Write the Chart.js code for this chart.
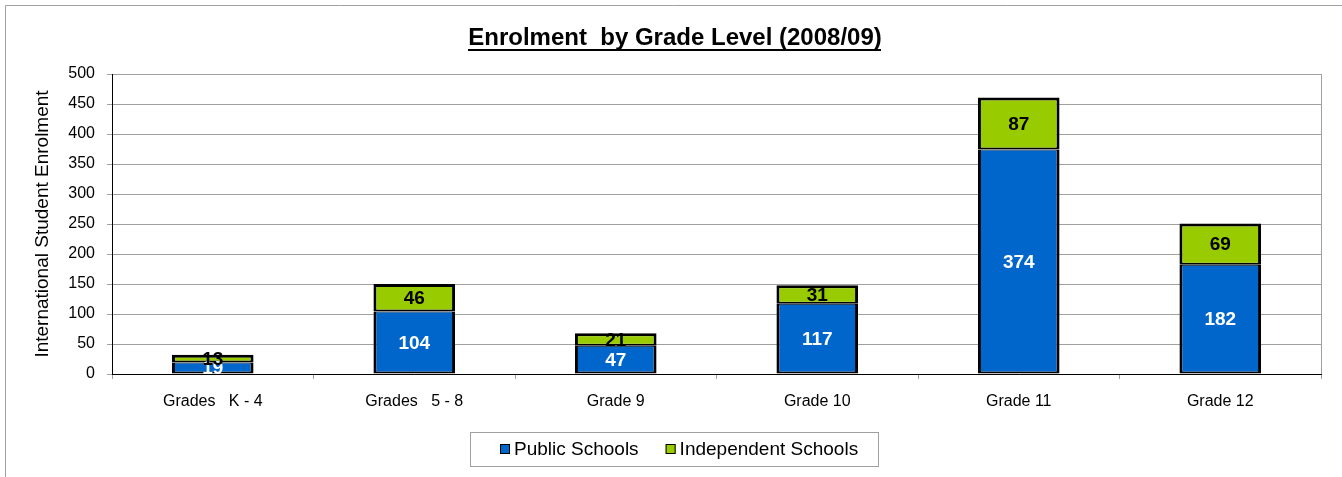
<!DOCTYPE html>
<html>
<head>
<meta charset="utf-8">
<script src="https://cdn.jsdelivr.net/npm/chart.js@4"></script>
<style>
  html, body { margin: 0; padding: 0; background: #fff; }
  #wrap { width: 1342px; height: 477px; }
</style>
</head>
<body>
<div id="wrap"><canvas id="chart" width="1342" height="477"></canvas></div>
<script>
const categories = ['Grades   K - 4', 'Grades   5 - 8', 'Grade 9', 'Grade 10', 'Grade 11', 'Grade 12'];
const publicSchools = [19, 104, 47, 117, 374, 182];
const independentSchools = [13, 46, 21, 31, 87, 69];
const yTicks = [0, 50, 100, 150, 200, 250, 300, 350, 400, 450, 500];

const FONT = '"Liberation Sans", Arial, sans-serif';

// frame, title, plot border, value labels and the boxed legend
const extras = {
  id: 'extras',
  beforeDraw(chart) {
    const ctx = chart.ctx;
    ctx.save();
    ctx.strokeStyle = '#a0a0a0';
    ctx.lineWidth = 1;
    ctx.beginPath();
    ctx.moveTo(5.5, 477);
    ctx.lineTo(5.5, 5.5);
    ctx.lineTo(1342, 5.5);
    ctx.stroke();
    ctx.restore();
  },
  afterDatasetsDraw(chart) {
    const ctx = chart.ctx;
    ctx.save();
    ctx.font = 'bold 19px ' + FONT;
    ctx.textAlign = 'center';
    ctx.textBaseline = 'middle';
    chart.data.datasets.forEach((ds, i) => {
      chart.getDatasetMeta(i).data.forEach((bar, j) => {
        ctx.fillStyle = i === 0 ? '#ffffff' : '#000000';
        ctx.fillText(String(ds.data[j]), bar.x, (bar.y + bar.base) / 2 + 1);
      });
    });
    ctx.restore();
  },
  afterDraw(chart) {
    const ctx = chart.ctx;
    const a = chart.chartArea;
    ctx.save();
    // plot border on the right
    ctx.strokeStyle = '#a0a0a0';
    ctx.lineWidth = 1;
    ctx.beginPath();
    ctx.moveTo(Math.round(a.right) + 0.5, a.top);
    ctx.lineTo(Math.round(a.right) + 0.5, a.bottom);
    ctx.stroke();

    // title
    const title = 'Enrolment  by Grade Level (2008/09)';
    ctx.font = 'bold 24px ' + FONT;
    ctx.fillStyle = '#000';
    ctx.textAlign = 'center';
    ctx.textBaseline = 'alphabetic';
    const cx = 675;
    ctx.fillText(title, cx, 45);
    const tw = ctx.measureText(title).width;
    ctx.fillRect(Math.round(cx - tw / 2), 49, Math.round(tw), 2);

    // legend
    ctx.strokeStyle = '#a0a0a0';
    ctx.strokeRect(470.5, 432.5, 408, 34);
    ctx.font = '19px ' + FONT;
    ctx.textAlign = 'left';
    ctx.textBaseline = 'middle';
    let x = 500;
    chart.data.datasets.forEach(ds => {
      ctx.fillStyle = ds.backgroundColor;
      ctx.fillRect(x, 444, 10, 10);
      ctx.strokeStyle = '#000';
      ctx.strokeRect(x + 0.5, 444.5, 9, 9);
      ctx.fillStyle = '#000';
      ctx.fillText(ds.label, x + 14, 450);
      x += 14 + ctx.measureText(ds.label).width + 27;
    });
    ctx.restore();
  }
};

new Chart(document.getElementById('chart'), {
  type: 'bar',
  data: {
    labels: categories,
    datasets: [
      {
        label: 'Public Schools',
        data: publicSchools,
        backgroundColor: '#0066CC',
        borderColor: '#000000',
        borderWidth: { top: 1, left: 3, right: 3, bottom: 2 },
        borderSkipped: false
      },
      {
        label: 'Independent Schools',
        data: independentSchools,
        backgroundColor: '#99CC00',
        borderColor: '#000000',
        borderWidth: { top: 3, left: 3, right: 3, bottom: 2 },
        borderSkipped: false
      }
    ]
  },
  options: {
    responsive: false,
    devicePixelRatio: 1,
    animation: false,
    layout: { padding: { top: 74, right: 21, bottom: 63, left: 0 } },
    datasets: { bar: { categoryPercentage: 1.0, barPercentage: 0.405 } },
    plugins: {
      legend: { display: false },
      title: { display: false },
      tooltip: { enabled: false }
    },
    scales: {
      x: {
        stacked: true,
        afterFit(scale) { scale.height = 40; },
        grid: { offset: true, drawOnChartArea: false, drawTicks: true, tickLength: 5, color: '#a0a0a0' },
        border: { color: '#000', width: 1 },
        ticks: { color: '#000', padding: 13, font: { family: FONT, size: 16 }, maxRotation: 0 }
      },
      y: {
        stacked: true,
        min: 0,
        max: 500,
        afterFit(scale) { scale.width = 112; },
        afterBuildTicks(scale) { scale.ticks = yTicks.map(v => ({ value: v })); },
        grid: { color: '#a0a0a0', tickLength: 5 },
        border: { color: '#000', width: 1 },
        ticks: { color: '#000', padding: 12, font: { family: FONT, size: 16 } },
        title: {
          display: true,
          text: 'International Student Enrolment',
          color: '#000',
          padding: { top: 31, bottom: 0 },
          font: { family: FONT, size: 19 }
        }
      }
    }
  },
  plugins: [extras]
});
</script>
</body>
</html>
